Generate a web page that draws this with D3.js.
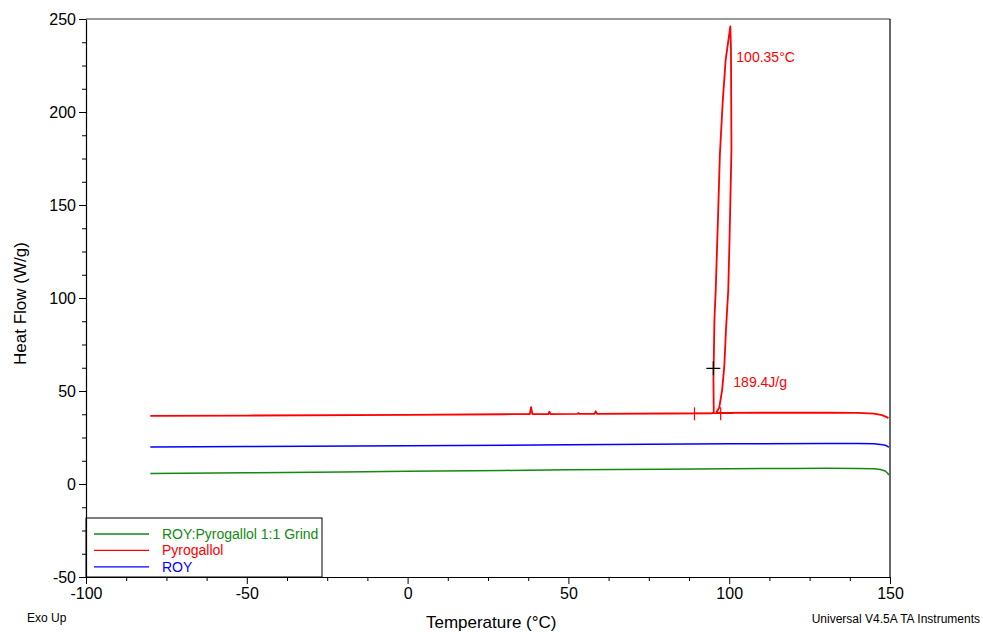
<!DOCTYPE html>
<html>
<head>
<meta charset="utf-8">
<script src="https://cdn.jsdelivr.net/npm/d3@7"></script>
<style>
  body { margin: 0; background: #fff; }
  svg { font-family: Arial, "Liberation Sans", sans-serif; }
</style>
</head>
<body>
<svg id="chart"></svg>
<script>
// tick labels
var xTicks = [-100, -50, 0, 50, 100, 150];
var yTicks = [-50, 0, 50, 100, 150, 200, 250];

// legend entries (top to bottom)
var seriesNames = ["ROY:Pyrogallol 1:1 Grind", "Pyrogallol", "ROY"];

// ROY:Pyrogallol 1:1 Grind
var grindTemp = [-80, -50, -20, 0, 30, 50, 80, 100, 120, 130, 140, 145, 147, 148.5, 149.3, 149.6];
var grindFlow = [5.6, 6.0, 6.5, 6.8, 7.3, 7.6, 7.9, 8.2, 8.4, 8.45, 8.4, 8.2, 7.8, 7.0, 5.8, 4.8];

// Pyrogallol (with melting loop)
var pyroTemp = [-80, -50, 0, 30, 38.0, 38.4, 38.8, 43.8, 44.1, 44.5, 52.9, 53.1, 53.4, 58.1, 58.5, 58.9, 80, 94.5, 95.2,
                95.1, 95.4, 95.8, 96.5, 97.1, 98.0, 98.9, 100.35,
                100.55, 100.7, 100.1, 99.7, 99.0, 98.5, 97.8, 96.9, 96.0, 97.2,
                110, 130, 140, 145, 147.5, 149, 149.5];
var pyroFlow = [36.6, 36.8, 37.2, 37.5, 37.6, 41.3, 37.6, 37.6, 38.9, 37.6, 37.7, 38.2, 37.7, 37.7, 39.1, 37.7, 37.9, 38.0, 38.4,
                55.9, 88, 104, 142, 177, 206, 228, 246,
                234, 180, 131, 104, 83, 64, 50.5, 41, 38.6, 38.2,
                38.3, 38.3, 38.2, 37.8, 37.0, 36.0, 35.4];

// ROY
var royTemp = [-80, -50, 0, 50, 100, 130, 140, 145, 147, 148.5, 149.3, 149.6];
var royFlow = [19.9, 20.1, 20.5, 21.1, 21.6, 21.8, 21.8, 21.6, 21.3, 20.8, 20.2, 19.7];

// analysis annotations
var peakTemp = 100.35, peakLabel = "100.35°C";
var enthalpyLabel = "189.4J/g", crossPoint = [95.06, 62.2];
var limitTemps = [89.2, 97.35], limitFlow = 38.0;

var colors = ["#118a11", "#ff0000", "#0000ff"];

var W = 983, H = 632;
var margin = {top: 19, right: 93, bottom: 55, left: 86},
    width = W - margin.left - margin.right,
    height = H - margin.top - margin.bottom;

var root = d3.select("#chart").attr("width", W).attr("height", H);
var svg = root.append("g")
    .attr("transform", "translate(" + margin.left + "," + margin.top + ")");

var x = d3.scaleLinear().domain([-100, 150]).range([0, width]);
var y = d3.scaleLinear().domain([-50, 250]).range([height, 0]);

var minorX = d3.range(-100, 150.01, 12.5).filter(function(v) { return xTicks.indexOf(v) < 0; });
var minorY = d3.range(-50, 250.01, 12.5).filter(function(v) { return yTicks.indexOf(v) < 0; });

// plain hyphen for negatives, like the instrument software
var fmt = function(d) { return String(d); };

// frame: top (gray) and right (black)
svg.append("line").attr("x1", 0).attr("x2", width).attr("y1", 0).attr("y2", 0)
    .attr("stroke", "#777").attr("stroke-width", 1.5);
svg.append("line").attr("x1", width).attr("x2", width).attr("y1", 0).attr("y2", height)
    .attr("stroke", "#000").attr("stroke-width", 1.2);

// curves
var line = d3.line()
    .x(function(d) { return x(d[0]); })
    .y(function(d) { return y(d[1]); });

var series = [
  d3.zip(grindTemp, grindFlow),
  d3.zip(pyroTemp, pyroFlow),
  d3.zip(royTemp, royFlow)
];

svg.selectAll(".curve")
    .data(series)
  .enter().append("path")
    .attr("class", "curve")
    .attr("fill", "none")
    .attr("stroke", function(d, i) { return colors[i]; })
    .attr("stroke-width", function(d, i) { return i == 1 ? 1.8 : 1.5; })
    .attr("stroke-linejoin", "round")
    .attr("d", line);

// integration limits
svg.selectAll(".limit")
    .data(limitTemps)
  .enter().append("line")
    .attr("x1", function(d) { return x(d); })
    .attr("x2", function(d) { return x(d); })
    .attr("y1", y(limitFlow) - 6)
    .attr("y2", y(limitFlow) + 7)
    .attr("stroke", "#ff0000").attr("stroke-width", 1.2);
svg.append("line")
    .attr("x1", x(limitTemps[0])).attr("x2", x(limitTemps[1]) + 12)
    .attr("y1", y(limitFlow)).attr("y2", y(limitFlow))
    .attr("stroke", "#ff0000").attr("stroke-width", 1.2);

// cross marker
var cx = x(crossPoint[0]), cy = y(crossPoint[1]);
svg.append("path")
    .attr("d", "M" + (cx - 7) + "," + cy + "H" + (cx + 7) + "M" + cx + "," + (cy - 7) + "V" + (cy + 7))
    .attr("stroke", "#000").attr("stroke-width", 1.2);

svg.append("text")
    .attr("x", x(peakTemp) + 6).attr("y", y(246) + 36)
    .attr("fill", "#ff0000").style("font-size", "14px")
    .text(peakLabel);
svg.append("text")
    .attr("x", x(peakTemp) + 3).attr("y", y(crossPoint[1]) + 19)
    .attr("fill", "#ff0000").style("font-size", "14px")
    .text(enthalpyLabel);

// legend box
var lg = svg.append("g");
lg.append("rect")
    .attr("x", 0).attr("y", height - 59).attr("width", 236).attr("height", 59)
    .attr("fill", "#fff").attr("stroke", "#000").attr("stroke-width", 1);
seriesNames.forEach(function(name, i) {
  var ly = height - 43 + i * 16.4;
  lg.append("line")
      .attr("x1", 8).attr("x2", 63).attr("y1", ly).attr("y2", ly)
      .attr("stroke", colors[i]).attr("stroke-width", 1.3);
  lg.append("text")
      .attr("x", 76).attr("y", ly + 5)
      .attr("fill", colors[i]).style("font-size", "14px")
      .text(name);
});

// axes
svg.append("g")
    .attr("transform", "translate(0," + height + ")")
    .call(d3.axisBottom(x).tickValues(minorX).tickFormat("").tickSize(4).tickSizeOuter(0))
    .call(function(g) { g.select(".domain").remove(); });
svg.append("g")
    .call(d3.axisLeft(y).tickValues(minorY).tickFormat("").tickSize(4).tickSizeOuter(0))
    .call(function(g) { g.select(".domain").remove(); });

var xAxis = svg.append("g")
    .attr("transform", "translate(0," + height + ")")
    .call(d3.axisBottom(x).tickValues(xTicks).tickFormat(fmt).tickSize(7).tickPadding(4).tickSizeOuter(0));
var yAxis = svg.append("g")
    .call(d3.axisLeft(y).tickValues(yTicks).tickFormat(fmt).tickSize(7).tickPadding(3).tickSizeOuter(0));

[xAxis, yAxis].forEach(function(a) {
  a.selectAll("text").style("font-size", "16px").attr("fill", "#000")
      .style("font-family", "Arial, 'Liberation Sans', sans-serif");
  a.selectAll("line").attr("stroke", "#000");
  a.select(".domain").attr("stroke", "#000").attr("stroke-width", 1.2);
});

// titles
root.append("text")
    .attr("x", margin.left + x(26)).attr("y", 628)
    .attr("text-anchor", "middle").style("font-size", "17px")
    .text("Temperature (°C)");
root.append("text")
    .attr("transform", "translate(26," + (margin.top + y(97)) + ") rotate(-90)")
    .attr("text-anchor", "middle").style("font-size", "17px")
    .text("Heat Flow (W/g)");
root.append("text")
    .attr("x", 27).attr("y", 622).style("font-size", "12px")
    .text("Exo Up");
root.append("text")
    .attr("x", 980).attr("y", 623).attr("text-anchor", "end").style("font-size", "12px")
    .text("Universal V4.5A TA Instruments");
</script>
</body>
</html>
